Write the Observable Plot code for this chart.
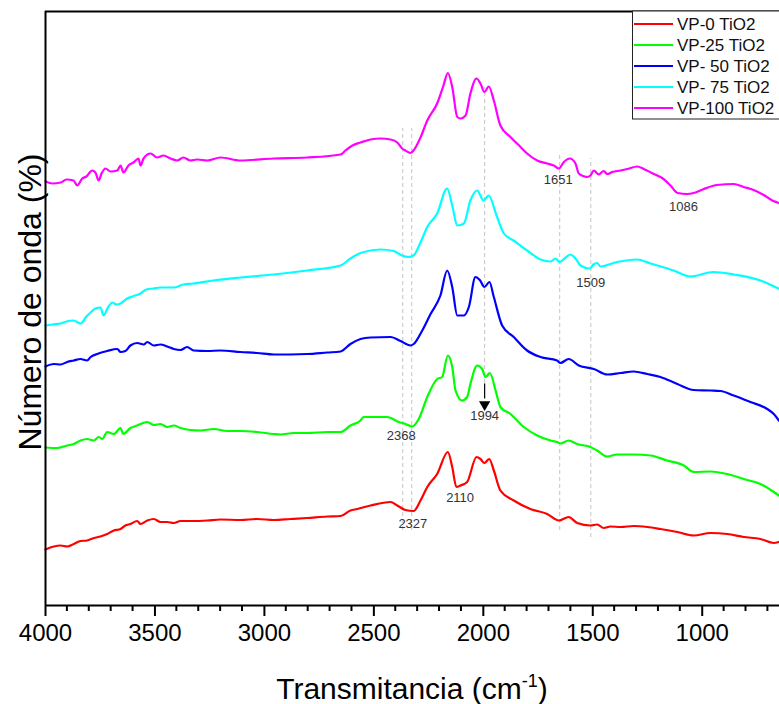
<!DOCTYPE html>
<html>
<head>
<meta charset="utf-8">
<script src="https://cdn.jsdelivr.net/npm/d3@7"></script>
<script src="https://cdn.jsdelivr.net/npm/@observablehq/plot@0.6"></script>
<style>
  html, body { margin: 0; padding: 0; background: #fff; }
  #chart svg { display: block; }
</style>
</head>
<body>
<div id="chart"></div>
<script>
// FTIR spectra of the VP films with increasing TiO2 loading.
// Each series: [wavenumber (cm-1), offset transmittance (a.u.)]
const names = ["VP-0 TiO2", "VP-25 TiO2", "VP- 50 TiO2", "VP- 75 TiO2", "VP-100 TiO2"];
const colors = ["#ff0000", "#00ff00", "#0000ff", "#00ffff", "#ff00ff"];

const vp0 = [[4000,11.2],[3962,11.8],[3931,12.0],[3901,11.8],[3871,12.3],[3840,12.9],[3810,13.0],[3779,13.5],[3749,13.8],[3718,14.3],[3688,15.0],[3657,15.3],[3635,16.0],[3612,16.3],[3581,16.9],[3566,16.3],[3535,17.0],[3505,17.3],[3475,16.7],[3444,16.7],[3414,16.5],[3383,16.9],[3323,16.9],[3261,17.0],[3201,17.2],[3109,17.1],[3033,17.3],[2957,17.1],[2881,17.3],[2805,17.5],[2713,17.8],[2652,17.9],[2607,19.0],[2576,19.3],[2515,20.0],[2424,20.7],[2393,20.0],[2356,19.1],[2318,18.9],[2287,21.0],[2256,23.7],[2211,26.3],[2162,30.7],[2142,27.7],[2123,23.7],[2104,24.0],[2074,24.7],[2031,29.7],[2013,29.3],[1995,28.5],[1973,29.3],[1952,27.0],[1922,23.0],[1861,21.0],[1785,19.3],[1708,18.3],[1655,17.0],[1610,17.7],[1571,16.5],[1511,16.0],[1480,16.2],[1450,15.5],[1419,15.8],[1373,15.7],[1313,15.9],[1251,15.7],[1191,15.3],[1114,14.7],[1039,14.0],[962,14.5],[886,14.3],[810,13.7],[734,13.3],[673,12.5],[650,12.7]];

const vp25 = [[4000,31.6],[3947,31.5],[3901,32.0],[3871,32.3],[3840,33.0],[3810,33.3],[3779,33.0],[3757,33.7],[3741,33.3],[3718,34.7],[3688,34.3],[3657,35.5],[3645,34.3],[3612,35.5],[3581,36.0],[3535,36.7],[3505,36.1],[3475,36.3],[3444,35.7],[3414,36.0],[3383,35.5],[3338,35.1],[3292,35.0],[3231,35.3],[3170,34.9],[3109,34.9],[3033,34.7],[2957,34.3],[2927,34.2],[2866,34.5],[2805,34.5],[2713,34.7],[2652,34.7],[2607,36.0],[2561,37.0],[2546,37.7],[2439,37.7],[2386,36.7],[2355,36.3],[2325,35.8],[2295,37.3],[2256,41.7],[2211,45.3],[2188,45.7],[2162,50.0],[2142,47.7],[2127,43.0],[2097,41.0],[2074,41.7],[2059,44.3],[2028,48.0],[2005,47.3],[1990,45.7],[1970,46.5],[1944,43.0],[1922,39.7],[1876,38.3],[1815,35.7],[1754,34.0],[1693,33.0],[1663,32.7],[1648,32.4],[1610,33.0],[1571,32.3],[1511,31.7],[1480,31.0],[1434,29.8],[1389,30.2],[1313,30.2],[1236,30.0],[1160,29.0],[1084,28.0],[1039,26.7],[962,26.8],[886,26.3],[810,25.3],[734,24.3],[673,22.7],[650,22.0]];

const vp50 = [[4000,47.8],[3962,48.3],[3931,48.2],[3901,48.7],[3871,49.0],[3840,49.3],[3810,49.0],[3794,49.7],[3764,50.3],[3718,50.9],[3672,51.3],[3657,50.7],[3635,50.9],[3612,52.0],[3581,52.5],[3551,52.2],[3535,52.7],[3505,52.0],[3475,52.2],[3444,51.8],[3414,51.3],[3383,51.1],[3353,51.7],[3323,51.0],[3261,50.9],[3201,51.0],[3109,50.7],[3033,50.5],[2957,50.2],[2805,50.3],[2713,50.6],[2652,50.8],[2607,52.3],[2561,53.3],[2515,53.6],[2424,53.7],[2378,52.9],[2333,52.0],[2318,52.3],[2279,55.0],[2241,58.3],[2196,62.0],[2165,67.0],[2142,63.7],[2119,58.0],[2089,58.0],[2066,59.7],[2036,65.7],[2016,65.1],[1995,63.7],[1972,64.7],[1952,61.7],[1914,56.0],[1861,53.7],[1800,51.0],[1739,49.7],[1663,49.0],[1648,48.5],[1610,49.3],[1564,48.0],[1495,47.3],[1434,46.2],[1373,46.5],[1313,46.8],[1251,46.3],[1191,45.7],[1114,44.3],[1039,43.1],[962,43.0],[917,42.9],[856,42.0],[780,40.7],[703,39.3],[673,38.3],[650,37.0]];

const vp75 = [[4000,56.0],[3968,56.2],[3931,56.4],[3904,56.8],[3872,57.0],[3840,56.4],[3813,57.8],[3794,58.6],[3772,59.4],[3749,59.6],[3735,58.0],[3717,59.4],[3695,60.6],[3676,60.2],[3657,60.4],[3627,61.4],[3603,61.8],[3566,62.4],[3539,63.2],[3507,63.4],[3475,63.6],[3415,63.6],[3370,64.2],[3324,64.4],[3233,65.0],[3109,65.6],[2959,66.2],[2805,67.0],[2652,68.0],[2607,69.4],[2561,70.5],[2470,71.2],[2410,70.9],[2371,70.0],[2342,69.7],[2319,70.0],[2287,72.6],[2256,75.7],[2211,78.4],[2165,83.4],[2142,80.0],[2119,76.0],[2089,76.4],[2059,81.0],[2028,83.0],[1999,81.0],[1976,82.0],[1937,77.7],[1906,74.4],[1862,73.0],[1800,71.0],[1739,69.2],[1693,68.8],[1670,69.4],[1651,68.7],[1629,69.4],[1602,70.2],[1579,69.4],[1556,68.0],[1514,67.4],[1497,68.2],[1480,68.5],[1465,67.8],[1389,68.7],[1297,69.2],[1236,68.4],[1131,67.0],[1054,65.8],[949,66.7],[857,66.2],[734,65.0],[652,63.4]];

const vp100 = [[4000,84.8],[3968,84.4],[3931,84.6],[3904,85.2],[3872,85.0],[3855,84.0],[3832,85.4],[3813,85.8],[3787,87.0],[3772,86.6],[3757,85.0],[3744,86.4],[3726,87.4],[3703,86.8],[3672,87.0],[3657,88.0],[3644,86.6],[3621,88.0],[3598,88.6],[3575,89.4],[3566,88.0],[3552,89.4],[3520,90.4],[3490,89.6],[3461,90.0],[3429,89.4],[3398,89.0],[3370,89.6],[3338,89.0],[3307,89.2],[3261,89.0],[3201,89.6],[3109,89.0],[2959,89.4],[2805,89.6],[2652,90.2],[2630,91.0],[2598,92.0],[2561,92.6],[2515,93.2],[2470,93.4],[2424,93.2],[2393,92.6],[2371,91.4],[2356,91.0],[2333,90.5],[2319,91.0],[2287,93.6],[2256,97.0],[2211,100.4],[2182,104.0],[2162,106.5],[2142,103.7],[2119,97.7],[2104,97.4],[2081,98.0],[2059,102.4],[2031,105.4],[2013,104.4],[1995,102.7],[1975,103.8],[1952,101.0],[1922,96.0],[1876,93.7],[1830,91.7],[1800,90.4],[1754,89.0],[1708,88.4],[1678,88.0],[1655,87.4],[1632,88.7],[1605,89.4],[1579,88.4],[1564,86.4],[1526,85.7],[1511,86.0],[1495,87.0],[1473,86.2],[1450,86.9],[1434,86.3],[1411,86.7],[1373,87.0],[1343,87.3],[1297,87.8],[1267,87.3],[1221,86.3],[1183,85.5],[1145,84.0],[1112,82.5],[1069,82.3],[1039,82.5],[993,83.3],[932,84.1],[856,84.3],[810,83.7],[765,83.1],[719,82.1],[680,81.0],[650,80.5]];

const spectra = [vp0, vp25, vp50, vp75, vp100];

// Band assignments written on the plot
const bandText = ["2368", "2327", "2110", "1994", "1509", "1651", "1086"];
const bandX    = [2375, 2322, 2106, 1994, 1509, 1658, 1086];
const bandY    = [34.0, 16.4, 21.6, 38.0, 64.6, 85.2, 79.8];

// Dashed guides through the marked bands
const guideX      = [2368, 2327, 1994, 1651, 1509];
const guideTop    = [95.4, 95.4, 103.6, 90.0, 89.4];
const guideBottom = [15.0, 15.0, 44.4, 15.0, 13.6];

// Arrow pointing at the 1994 band of VP-25
const arrowX = 1994, arrowFrom = 44.4, arrowTo = 40.2;

const xMajor = [4000, 3500, 3000, 2500, 2000, 1500, 1000];
const xMinor = d3.range(3900, 640, -100).filter(v => v % 500 !== 0);
const yMin = 0, yMax = 118.8;

const rows = spectra.flatMap((s, i) => s.map(([x, y]) => ({x, y, name: names[i]})));
const bands = bandText.map((t, i) => ({t, x: bandX[i], y: bandY[i]}));
const guides = guideX.map((x, i) => ({x, y1: guideBottom[i], y2: guideTop[i]}));

const font = '"Liberation Sans", Arial, Helvetica, sans-serif';

const chart = Plot.plot({
  width: 779,
  height: 704,
  marginLeft: 45,
  marginRight: 0,
  marginTop: 11,
  marginBottom: 99,
  style: {fontFamily: font, background: "#fff", color: "#000"},
  x: {domain: [4000, 647], axis: null},
  y: {domain: [yMin, yMax], axis: null},
  color: {domain: names, range: colors},
  marks: [
    Plot.ruleX(guides, {x: "x", y1: "y1", y2: "y2", stroke: "#c4c4c4", strokeWidth: 1, strokeDasharray: "4,3"}),
    Plot.line(rows, {x: "x", y: "y", z: "name", stroke: "name", strokeWidth: 2.2, curve: "monotone-x", strokeLinejoin: "round"}),
    Plot.link([{x: arrowX}], {x1: "x", x2: "x", y1: () => arrowFrom, y2: () => arrowTo + 1.2, stroke: "#000", strokeWidth: 1.2}),
    Plot.dot([{x: arrowX}], {x: "x", y: () => arrowTo, symbol: "triangle", rotate: 180, r: 4.2, fill: "#000", stroke: "none"}),
    Plot.text(bands, {x: "x", y: "y", text: "t", fontSize: 13, fill: "#333"}),
    Plot.axisX({ticks: xMajor, tickSize: 11, tickPadding: 7, fontSize: 24, strokeWidth: 2, tickFormat: d => String(d), stroke: "#000", fill: "#000", label: null}),
    Plot.ruleY([yMin], {stroke: "#000", strokeWidth: 2}),
    Plot.ruleY([yMax], {stroke: "#000", strokeWidth: 2}),
    Plot.ruleX([4000], {stroke: "#000", strokeWidth: 2})
  ]
});

const svg = d3.select(chart);
const sx = chart.scale("x"), sy = chart.scale("y");

// Minor ticks every 100 cm-1 along the bottom axis, placed with the plot's own scales
const axisY = sy.apply(yMin);
svg.append("g").attr("stroke", "#000").attr("stroke-width", 2)
  .selectAll("line").data(xMinor).join("line")
  .attr("x1", d => sx.apply(d)).attr("x2", d => sx.apply(d))
  .attr("y1", axisY).attr("y2", axisY + 6);

// Axis titles
const xt = svg.append("text")
  .attr("x", 412).attr("y", 699)
  .attr("text-anchor", "middle")
  .style("font-family", font).style("font-size", "30px").attr("fill", "#000");
xt.append("tspan").text("Transmitancia (cm");
xt.append("tspan").attr("dy", -12).style("font-size", "18px").text("-1");
xt.append("tspan").attr("dy", 12).text(")");

svg.append("text")
  .attr("transform", "translate(41,302) rotate(-90)")
  .attr("text-anchor", "middle")
  .style("font-family", font).style("font-size", "32px").attr("fill", "#000")
  .text("Número de onda (%)");

// Legend box in the upper right corner
const lg = svg.append("g").attr("text-anchor", "start");
lg.append("rect")
  .attr("x", 632.5).attr("y", 11).attr("width", 160).attr("height", 108)
  .attr("fill", "#fff").attr("stroke", "#222").attr("stroke-width", 1);
names.forEach((n, i) => {
  const y = 24 + i * 21;
  lg.append("line").attr("x1", 634).attr("x2", 673).attr("y1", y).attr("y2", y)
    .attr("stroke", colors[i]).attr("stroke-width", 2);
  lg.append("text").attr("x", 677).attr("y", y).attr("dy", "0.35em")
    .attr("text-anchor", "start")
    .style("font-family", font).style("font-size", "17px").attr("fill", "#111")
    .text(n);
});

document.getElementById("chart").append(chart);
</script>
</body>
</html>
